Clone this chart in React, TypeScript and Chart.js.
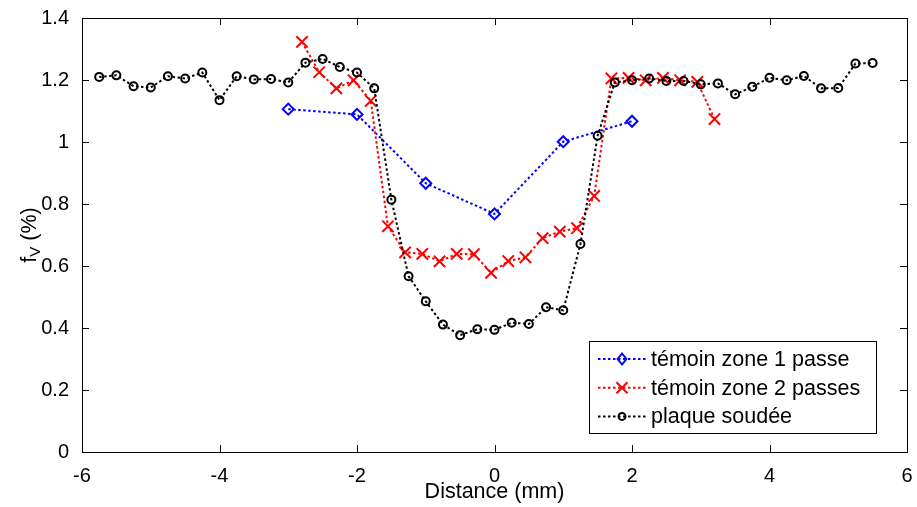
import React, { useEffect, useRef } from "react";
import { Chart, registerables } from "chart.js";
Chart.register(...registerables);

const blueLabel = "témoin zone 1 passe";
const redLabel = "témoin zone 2 passes";
const blackLabel = "plaque soudée";

const blueX = [-3, -2, -1, 0, 1, 2];
const blueY = [1.106, 1.089, 0.867, 0.768, 1.001, 1.067];

const redX = [-2.8, -2.55, -2.3, -2.05, -1.8, -1.55, -1.3, -1.05, -0.8, -0.55, -0.3, -0.05, 0.2, 0.45, 0.7, 0.95, 1.2, 1.45, 1.7, 1.95, 2.2, 2.45, 2.7, 2.95, 3.2];
const redY = [1.323, 1.225, 1.173, 1.199, 1.133, 0.728, 0.644, 0.639, 0.615, 0.639, 0.638, 0.578, 0.616, 0.628, 0.69, 0.711, 0.722, 0.826, 1.205, 1.207, 1.199, 1.207, 1.199, 1.194, 1.074];

const blackX = [-5.75, -5.5, -5.25, -5, -4.75, -4.5, -4.25, -4, -3.75, -3.5, -3.25, -3, -2.75, -2.5, -2.25, -2, -1.75, -1.5, -1.25, -1, -0.75, -0.5, -0.25, 0, 0.25, 0.5, 0.75, 1, 1.25, 1.5, 1.75, 2, 2.25, 2.5, 2.75, 3, 3.25, 3.5, 3.75, 4, 4.25, 4.5, 4.75, 5, 5.25, 5.5];
const blackY = [1.21, 1.215, 1.18, 1.176, 1.212, 1.205, 1.224, 1.135, 1.212, 1.202, 1.203, 1.192, 1.256, 1.268, 1.242, 1.224, 1.173, 0.814, 0.567, 0.486, 0.411, 0.377, 0.396, 0.394, 0.417, 0.413, 0.467, 0.457, 0.671, 1.02, 1.192, 1.199, 1.205, 1.197, 1.197, 1.186, 1.189, 1.154, 1.178, 1.207, 1.199, 1.213, 1.173, 1.174, 1.253, 1.255];

const xTicks = [-6, -4, -2, 0, 2, 4, 6];
const yTicks = [0, 0.2, 0.4, 0.6, 0.8, 1, 1.2, 1.4];
const xTitle = "Distance (mm)";

const FONT = "'Liberation Sans', Arial, Helvetica, sans-serif";
const FS = 20;
const FT = 21.5;
const DASH = [2.5, 2.5];

const toPts = (xs: number[], ys: number[]) => xs.map((x, i) => ({ x, y: ys[i] }));

function drawMarker(ctx: CanvasRenderingContext2D, kind: string, x: number, y: number, color: string) {
  ctx.save();
  ctx.setLineDash([]);
  ctx.strokeStyle = color;
  ctx.lineWidth = 2;
  ctx.beginPath();
  if (kind === "diamond") {
    const r = 5.5;
    ctx.moveTo(x, y - r);
    ctx.lineTo(x + r * 0.8, y);
    ctx.lineTo(x, y + r);
    ctx.lineTo(x - r * 0.8, y);
    ctx.closePath();
  } else if (kind === "cross") {
    const r = 5.5;
    ctx.moveTo(x - r, y - r);
    ctx.lineTo(x + r, y + r);
    ctx.moveTo(x + r, y - r);
    ctx.lineTo(x - r, y + r);
  } else {
    ctx.arc(x, y, 3.5, 0, Math.PI * 2);
  }
  ctx.stroke();
  ctx.restore();
}

const decor = {
  id: "decor",
  afterDraw(chart: any) {
    const ctx: CanvasRenderingContext2D = chart.ctx;
    const { left, right, top, bottom } = chart.chartArea;
    const xs = chart.scales.x;
    const ys = chart.scales.y;
    ctx.save();
    ctx.strokeStyle = "#000";
    ctx.lineWidth = 1;
    ctx.setLineDash([]);
    ctx.strokeRect(Math.round(left) + 0.5, Math.round(top) + 0.5, Math.round(right - left), Math.round(bottom - top));
    const tl = 7;
    ctx.beginPath();
    xTicks.forEach((v) => {
      const px = Math.round(xs.getPixelForValue(v)) + 0.5;
      ctx.moveTo(px, bottom);
      ctx.lineTo(px, bottom - tl);
      ctx.moveTo(px, top);
      ctx.lineTo(px, top + tl);
    });
    yTicks.forEach((v) => {
      const py = Math.round(ys.getPixelForValue(v)) + 0.5;
      ctx.moveTo(left, py);
      ctx.lineTo(left + tl, py);
      ctx.moveTo(right, py);
      ctx.lineTo(right - tl, py);
    });
    ctx.stroke();

    // legend
    const bx = right - 318;
    const by = bottom - 111;
    const bw = 287;
    const bh = 92;
    ctx.fillStyle = "#fff";
    ctx.fillRect(bx, by, bw, bh);
    ctx.strokeRect(Math.round(bx) + 0.5, Math.round(by) + 0.5, bw, bh);
    const rows = [
      { label: blueLabel, color: "#0000ff", kind: "diamond" },
      { label: redLabel, color: "#ff0000", kind: "cross" },
      { label: blackLabel, color: "#000000", kind: "circle" },
    ];
    rows.forEach((r, i) => {
      const ry = by + 18 + i * 28.7;
      ctx.save();
      ctx.strokeStyle = r.color;
      ctx.lineWidth = 2;
      ctx.setLineDash(DASH);
      ctx.beginPath();
      ctx.moveTo(bx + 9, ry);
      ctx.lineTo(bx + 58, ry);
      ctx.stroke();
      ctx.restore();
      drawMarker(ctx, r.kind, bx + 33, ry, r.color);
      ctx.fillStyle = "#000";
      ctx.font = `${FT}px ${FONT}`;
      ctx.textAlign = "left";
      ctx.textBaseline = "middle";
      ctx.fillText(r.label, bx + 62, ry + 1);
    });

    // y title f_V (%)
    ctx.save();
    ctx.translate(28, (top + bottom) / 2);
    ctx.rotate(-Math.PI / 2);
    ctx.fillStyle = "#000";
    ctx.textBaseline = "alphabetic";
    ctx.textAlign = "left";
    const big = `${FT}px ${FONT}`;
    const small = `${Math.round(FT * 0.72)}px ${FONT}`;
    ctx.font = big;
    const wF = ctx.measureText("f").width;
    ctx.font = small;
    const wV = ctx.measureText("V").width;
    ctx.font = big;
    const wR = ctx.measureText(" (%)").width;
    const total = wF + wV + wR;
    let cx = -total / 2;
    const base = 8;
    ctx.fillText("f", cx, base);
    cx += wF;
    ctx.font = small;
    ctx.fillText("V", cx, base + 4);
    cx += wV;
    ctx.font = big;
    ctx.fillText(" (%)", cx, base);
    ctx.restore();

    ctx.restore();
  },
};

export default function App() {
  const ref = useRef<HTMLCanvasElement | null>(null);
  useEffect(() => {
    if (!ref.current) return;
    const chart = new Chart(ref.current, {
      type: "line",
      data: {
        datasets: [
          {
            label: blueLabel,
            data: toPts(blueX, blueY),
            borderColor: "#0000ff",
            backgroundColor: "#0000ff",
            borderWidth: 2,
            borderDash: DASH,
            pointStyle: "rectRot",
            pointRadius: 5.5,
            pointBorderWidth: 2,
            pointBackgroundColor: "rgba(0,0,0,0)",
            pointBorderColor: "#0000ff",
            order: 2,
          },
          {
            label: redLabel,
            data: toPts(redX, redY),
            borderColor: "#ff0000",
            backgroundColor: "#ff0000",
            borderWidth: 2,
            borderDash: DASH,
            pointStyle: "crossRot",
            pointRadius: 8,
            pointBorderWidth: 2,
            pointBorderColor: "#ff0000",
            order: 1,
          },
          {
            label: blackLabel,
            data: toPts(blackX, blackY),
            borderColor: "#000000",
            backgroundColor: "#000000",
            borderWidth: 2,
            borderDash: DASH,
            pointStyle: "circle",
            pointRadius: 4,
            pointBorderWidth: 2,
            pointBackgroundColor: "rgba(0,0,0,0)",
            pointBorderColor: "#000000",
            order: 0,
          },
        ],
      },
      options: {
        animation: false,
        responsive: true,
        maintainAspectRatio: false,
        parsing: false as any,
        layout: { padding: { top: 18, right: 10, left: 0, bottom: 0 } },
        plugins: { legend: { display: false }, tooltip: { enabled: false } },
        elements: { line: { tension: 0 } },
        scales: {
          x: {
            type: "linear",
            min: -6,
            max: 6,
            grid: { display: false },
            border: { display: false },
            afterBuildTicks: (s: any) => {
              s.ticks = xTicks.map((v) => ({ value: v }));
            },
            afterFit: (s: any) => {
              s.height = 55;
            },
            ticks: {
              color: "#000",
              padding: 4,
              maxRotation: 0,
              font: { family: FONT, size: FS },
              callback: (v: any) => String(v),
            },
            title: {
              display: true,
              text: xTitle,
              color: "#000",
              font: { family: FONT, size: FT },
              padding: { top: 0, bottom: 2 },
            },
          },
          y: {
            type: "linear",
            min: 0,
            max: 1.4,
            grid: { display: false },
            border: { display: false },
            afterBuildTicks: (s: any) => {
              s.ticks = yTicks.map((v) => ({ value: v }));
            },
            afterFit: (s: any) => {
              s.width = 82;
            },
            ticks: {
              color: "#000",
              padding: 5,
              font: { family: FONT, size: FS },
              callback: (v: any) => String(Number(Number(v).toFixed(1))),
            },
          },
        },
      },
      plugins: [decor],
    });
    return () => chart.destroy();
  }, []);
  return (
    <div style={{ position: "absolute", left: 0, top: 0, width: 917, height: 507, background: "#fff" }}>
      <canvas ref={ref} />
    </div>
  );
}
